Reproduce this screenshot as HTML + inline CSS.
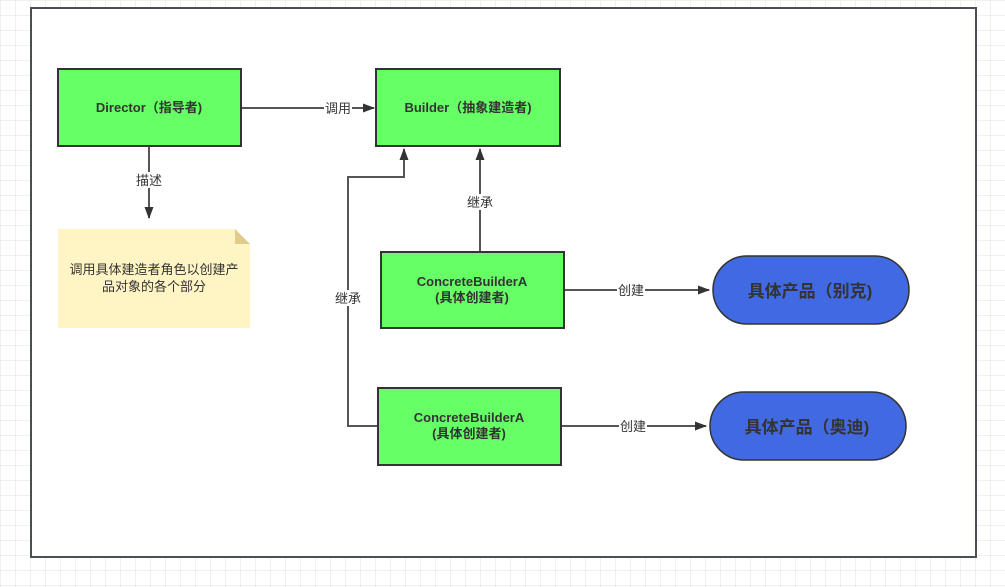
<!DOCTYPE html>
<html><head><meta charset="utf-8"><style>
html,body{margin:0;padding:0;width:1005px;height:587px;overflow:hidden;background:#fff}
svg text{font-family:"Liberation Sans","Noto Sans CJK SC",sans-serif;fill:#333}
</style></head><body>
<svg width="1005" height="587" viewBox="0 0 1005 587" xmlns="http://www.w3.org/2000/svg">
<defs>
<pattern id="g" width="15" height="15" patternUnits="userSpaceOnUse" x="1" y="1">
<path d="M15 0V15H0" fill="none" stroke="#e2e2e2" stroke-width="1"/>
</pattern>
<marker id="a" markerWidth="12" markerHeight="12" refX="11" refY="6" orient="auto" markerUnits="userSpaceOnUse">
<path d="M0,1.5 L12,6 L0,10.5 Z" fill="#333"/>
</marker>
</defs>
<rect width="1005" height="587" fill="url(#g)"/>
<rect x="31" y="8" width="945" height="549" fill="#fff" stroke="#4a4e55" stroke-width="2"/>

<g stroke="#555" stroke-width="2" fill="none">
<path d="M241 108H374" marker-end="url(#a)"/>
<path d="M149 146V218" marker-end="url(#a)"/>
<path d="M480 252V149" marker-end="url(#a)"/>
<path d="M378 426H348V177H404V149" marker-end="url(#a)"/>
<path d="M564 290H709" marker-end="url(#a)"/>
<path d="M561 426H706" marker-end="url(#a)"/>
</g>
<g font-size="13" text-anchor="middle">
<rect x="324" y="100" width="28" height="16" fill="#fff"/><text x="338" y="113">调用</text>
<rect x="135" y="172" width="28" height="16" fill="#fff"/><text x="149" y="185">描述</text>
<rect x="466" y="194" width="28" height="16" fill="#fff"/><text x="480" y="207">继承</text>
<rect x="334" y="290" width="28" height="16" fill="#fff"/><text x="348" y="303">继承</text>
<rect x="617" y="282" width="28" height="16" fill="#fff"/><text x="631" y="295">创建</text>
<rect x="619" y="418" width="28" height="16" fill="#fff"/><text x="633" y="431">创建</text>
</g>

<g fill="#66ff66" stroke="#333" stroke-width="2">
<rect x="58" y="69" width="183" height="77"/>
<rect x="376" y="69" width="184" height="77"/>
<rect x="381" y="252" width="183" height="76"/>
<rect x="378" y="388" width="183" height="77"/>
</g>
<g font-size="13" font-weight="bold" text-anchor="middle">
<text x="149" y="112">Director（指导者)</text>
<text x="468" y="112">Builder（抽象建造者)</text>
<text x="472" y="286">ConcreteBuilderA</text>
<text x="472" y="302">(具体创建者)</text>
<text x="469" y="422">ConcreteBuilderA</text>
<text x="469" y="438">(具体创建者)</text>
</g>

<path d="M58 229H235L250 244V328H58Z" fill="#fff4c3"/>
<path d="M235 229L250 244H235Z" fill="#e0cc8a"/>
<g font-size="13" text-anchor="middle">
<text x="154" y="274">调用具体建造者角色以创建产</text>
<text x="154" y="291">品对象的各个部分</text>
</g>

<g fill="#4169e1" stroke="#333" stroke-width="1.5">
<rect x="713" y="256" width="196" height="68" rx="34"/>
<rect x="710" y="392" width="196" height="68" rx="34"/>
</g>
<g font-size="17" font-weight="bold" text-anchor="middle">
<text x="810" y="297">具体产品（别克)</text>
<text x="807" y="433">具体产品（奥迪)</text>
</g>
</svg>
</body></html>
